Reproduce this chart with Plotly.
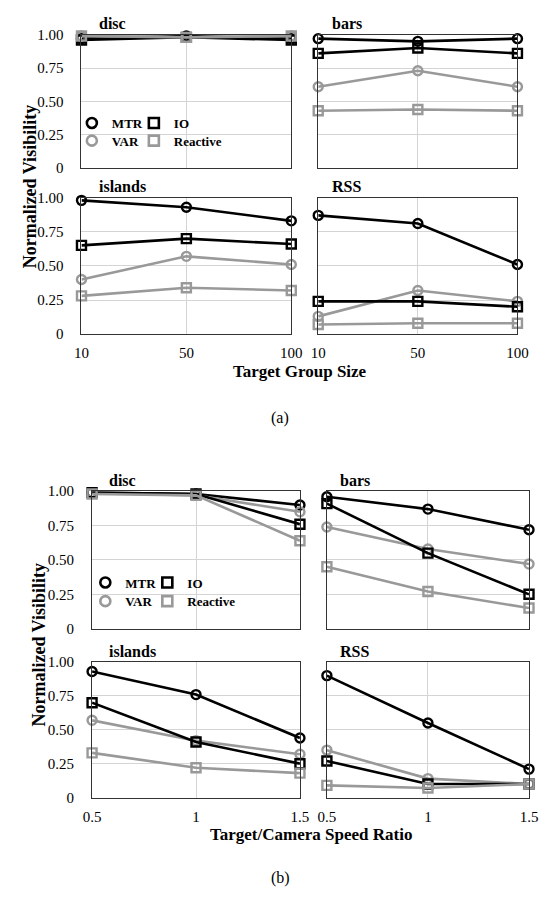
import plotly.graph_objects as go

# The page body keeps its default 8px margin, so the figure is 16px smaller than the window
# and every reference pixel position is shifted by OFF.
PAGE_W, PAGE_H = 548, 898
OFF = 8
W, H = PAGE_W - 2 * OFF, PAGE_H - 2 * OFF
FONT = "Liberation Serif, Times New Roman, Times, serif"
BLACK = "#000000"
GRAY = "#999999"

series = ["MTR", "VAR", "IO", "Reactive"]
series_color = {"MTR": BLACK, "VAR": GRAY, "IO": BLACK, "Reactive": GRAY}
series_symbol = {"MTR": "circle-open", "VAR": "circle-open", "IO": "square-open", "Reactive": "square-open"}
panels = ["disc", "bars", "islands", "RSS"]

# ---- Chart (a): Target Group Size ----
x_a = ["10", "50", "100"]
a_disc_MTR = [0.97, 0.99, 0.97]
a_disc_VAR = [0.99, 0.98, 0.99]
a_disc_IO = [0.96, 0.98, 0.96]
a_disc_Reactive = [0.99, 0.98, 0.99]
a_bars_MTR = [0.97, 0.95, 0.97]
a_bars_VAR = [0.61, 0.73, 0.61]
a_bars_IO = [0.86, 0.90, 0.86]
a_bars_Reactive = [0.43, 0.44, 0.43]
a_islands_MTR = [0.98, 0.93, 0.83]
a_islands_VAR = [0.40, 0.57, 0.51]
a_islands_IO = [0.65, 0.70, 0.66]
a_islands_Reactive = [0.28, 0.34, 0.32]
a_RSS_MTR = [0.87, 0.81, 0.51]
a_RSS_VAR = [0.13, 0.32, 0.24]
a_RSS_IO = [0.24, 0.24, 0.20]
a_RSS_Reactive = [0.07, 0.08, 0.08]

# ---- Chart (b): Target/Camera Speed Ratio ----
x_b = [0.5, 1.0, 1.5]
b_disc_MTR = [0.99, 0.98, 0.90]
b_disc_VAR = [0.99, 0.97, 0.85]
b_disc_IO = [0.99, 0.98, 0.76]
b_disc_Reactive = [0.98, 0.97, 0.64]
b_bars_MTR = [0.96, 0.87, 0.72]
b_bars_VAR = [0.74, 0.58, 0.47]
b_bars_IO = [0.91, 0.55, 0.25]
b_bars_Reactive = [0.45, 0.27, 0.15]
b_islands_MTR = [0.93, 0.76, 0.44]
b_islands_VAR = [0.57, 0.42, 0.32]
b_islands_IO = [0.70, 0.41, 0.25]
b_islands_Reactive = [0.33, 0.22, 0.18]
b_RSS_MTR = [0.90, 0.55, 0.21]
b_RSS_VAR = [0.35, 0.14, 0.10]
b_RSS_IO = [0.27, 0.10, 0.10]
b_RSS_Reactive = [0.09, 0.07, 0.10]

y_tickvals = [0, 0.25, 0.5, 0.75, 1.0]
y_ticktext = ["0", "0.25", "0.50", "0.75", "1.00"]
xb_ticktext = ["0.5", "1", "1.5"]

data = {
    "a": {p: {s: globals()[f"a_{p}_{s}"] for s in series} for p in panels},
    "b": {p: {s: globals()[f"b_{p}_{s}"] for s in series} for p in panels},
}


def px(x):
    return min(1.0, max(0.0, (x - OFF) / W))


def py(y):
    return min(1.0, max(0.0, 1 - (y - OFF) / H))


# panel pixel boxes in page pixels: (left, right, top, bottom)
boxes = {
    "a": {"disc": (75, 293, 27, 163), "bars": (321, 528, 27, 163),
          "islands": (75, 293, 193, 332), "RSS": (321, 528, 193, 332)},
    "b": {"disc": (86, 302, 492, 632), "bars": (330, 541, 492, 632),
          "islands": (86, 302, 666, 804), "RSS": (330, 541, 666, 804)},
}

fig = go.Figure()
layout = dict(width=W, height=H, margin=dict(l=0, r=0, t=0, b=0),
              paper_bgcolor="white", plot_bgcolor="white",
              font=dict(family=FONT, size=15, color=BLACK), annotations=[])

idx = 0
for chart in ["a", "b"]:
    xs = x_a if chart == "a" else x_b
    for p in panels:
        idx += 1
        sfx = "" if idx == 1 else str(idx)
        l, r, t, b = boxes[chart][p]
        bottom_row = p in ("islands", "RSS")
        left_col = p in ("disc", "islands")
        xaxis = dict(domain=[px(l), px(r)], anchor="y" + sfx,
                     showline=True, mirror=True, linecolor="#333333", linewidth=1,
                     showgrid=True, gridcolor="#d4d4d4", gridwidth=1,
                     zeroline=False, ticks="", showticklabels=bottom_row,
                     tickfont=dict(size=15, family=FONT), ticklabelstandoff=5,
                     ticklabeloverflow="allow")
        if chart == "a":
            xaxis.update(type="category", range=[0, 2], categoryorder="array", categoryarray=x_a)
        else:
            xaxis.update(type="linear", range=[0.5, 1.5], tickvals=x_b, ticktext=xb_ticktext)
        yaxis = dict(domain=[py(b), py(t)], anchor="x" + sfx, range=[0, 1],
                     showline=True, mirror=True, linecolor="#333333", linewidth=1,
                     showgrid=True, gridcolor="#d4d4d4", gridwidth=1,
                     zeroline=False, ticks="", tickvals=y_tickvals, ticktext=y_ticktext,
                     showticklabels=left_col, tickfont=dict(size=15, family=FONT),
                     ticklabelstandoff=14)
        layout["xaxis" + sfx] = xaxis
        layout["yaxis" + sfx] = yaxis
        for s in series:
            fig.add_trace(go.Scatter(
                x=xs, y=data[chart][p][s], mode="lines+markers", name=s,
                xaxis="x" + sfx, yaxis="y" + sfx, showlegend=False, cliponaxis=False,
                hoverinfo="skip",
                line=dict(color=series_color[s], width=2.6),
                marker=dict(symbol=series_symbol[s], size=9, color=series_color[s],
                            line=dict(width=2.4, color=series_color[s])),
            ))
        # panel title
        layout["annotations"].append(dict(
            text=f"<b>{p}</b>", xref="paper", yref="paper",
            x=px(l + (16 if left_col else 12)), y=py(t - 11),
            xanchor="left", yanchor="middle", showarrow=False,
            font=dict(size=16, family=FONT)))

# legends: two rows per chart, placed in the disc panel
legend_rows = {
    "a": [("legend", ["MTR", "IO"], 117), ("legend2", ["VAR", "Reactive"], 135)],
    "b": [("legend3", ["MTR", "IO"], 585), ("legend4", ["VAR", "Reactive"], 604)],
}
legend_x = {"a": 85, "b": 99}
entry_w = {"MTR": 17, "VAR": 17, "IO": 60, "Reactive": 60}
for chart in ["a", "b"]:
    for lg, names, yc in legend_rows[chart]:
        for s in names:
            fig.add_trace(go.Scatter(
                x=[None], y=[None], mode="markers", name=f"<b>{s}</b>", legend=lg,
                showlegend=True, legendwidth=entry_w[s],
                marker=dict(symbol=series_symbol[s], size=10, color=series_color[s],
                            line=dict(width=2.6, color=series_color[s])),
            ))
        layout[lg] = dict(orientation="h", x=px(legend_x[chart] - 20), y=py(yc),
                          xanchor="left", yanchor="middle", bgcolor="rgba(0,0,0,0)",
                          font=dict(size=13, family=FONT, color=BLACK),
                          itemwidth=30, tracegroupgap=0, itemclick=False,
                          itemdoubleclick=False)

# axis titles and captions
texts = [
    ("<b>Normalized Visibility</b>", 21, 182, -90, 18),
    ("<b>Target Group Size</b>", 302, 370, 0, 17),
    ("(a)", 281, 417, 0, 16),
    ("<b>Normalized Visibility</b>", 31, 648, -90, 18),
    ("<b>Target/Camera Speed Ratio</b>", 314, 842, 0, 17),
    ("(b)", 282, 886, 0, 16),
]
for txt, x, y, ang, sz in texts:
    layout["annotations"].append(dict(
        text=txt, xref="paper", yref="paper", x=px(x), y=py(y),
        xanchor="center", yanchor="middle", textangle=ang, showarrow=False,
        font=dict(size=sz, family=FONT)))

fig.update_layout(**layout, hovermode=False)
fig.write_html("out.html", config={"displayModeBar": False})
